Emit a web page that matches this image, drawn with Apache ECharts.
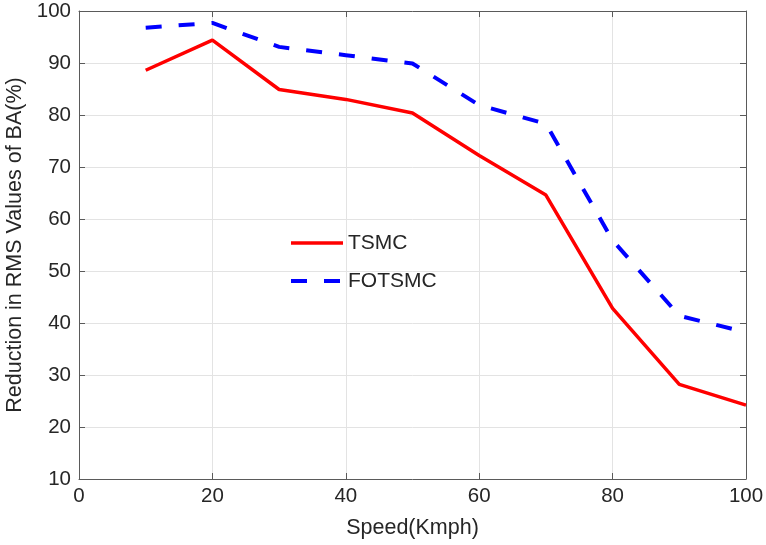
<!DOCTYPE html>
<html><head><meta charset="utf-8">
<script src="https://cdn.jsdelivr.net/npm/echarts@6/dist/echarts.min.js"></script>
<style>html,body{margin:0;padding:0;background:#fff}#c{width:766px;height:545px}</style>
</head><body><div id="c"></div>
<script>
const speeds = [10, 20, 30, 40, 50, 60, 70, 80, 90, 100];
const tsmc = [88.6, 94.4, 84.9, 83.0, 80.4, 72.2, 64.6, 42.8, 28.2, 24.2];
const fotsmc = [96.8, 97.7, 93.1, 91.5, 89.9, 81.9, 78.3, 55.9, 41.4, 38.2];
const seriesNames = ['TSMC', 'FOTSMC'];
const xTitle = 'Speed(Kmph)';
const yTitle = 'Reduction in RMS Values of BA(%)';

const font = 'Liberation Sans, Arial, sans-serif';
const axisCol = '#5a5a5a';
const txtCol = '#262626';
const chart = echarts.init(document.getElementById('c'));
const baseAxis = {
  axisLine: {show: true, onZero: false, lineStyle: {color: axisCol, width: 1}},
  axisTick: {show: true, inside: true, length: 6, lineStyle: {color: axisCol}},
  minorTick: {show: false}
};
chart.setOption({
  animation: false,
  backgroundColor: '#fff',
  grid: {left: 79, right: 20, top: 11, bottom: 66, containLabel: false, outerBoundsMode: 'none'},
  legend: {
    orient: 'vertical', left: 284, top: 227, itemGap: 16,
    itemWidth: 52, itemHeight: 14,
    itemStyle: {opacity: 0},
    textStyle: {fontFamily: font, fontSize: 21, lineHeight: 22, color: txtCol},
    data: [
      {name: seriesNames[0], lineStyle: {width: 3.5}},
      {name: seriesNames[1], lineStyle: {width: 4}}
    ]
  },
  xAxis: [
    Object.assign({}, baseAxis, {
      type: 'value', min: 0, max: 100, interval: 20, position: 'bottom',
      name: xTitle, nameLocation: 'middle', nameGap: 38,
      nameTextStyle: {fontFamily: font, fontSize: 21.5, color: txtCol},
      axisLabel: {fontFamily: font, fontSize: 20.5, color: txtCol, margin: 7},
      splitLine: {show: true, lineStyle: {color: '#e3e3e3', width: 1}}
    }),
    Object.assign({}, baseAxis, {
      type: 'value', min: 0, max: 100, interval: 20, position: 'top',
      axisLabel: {show: false}, splitLine: {show: false}
    })
  ],
  yAxis: [
    Object.assign({}, baseAxis, {
      type: 'value', min: 10, max: 100, interval: 10, position: 'left',
      name: yTitle, nameLocation: 'middle', nameGap: 47, nameRotate: 90,
      nameTextStyle: {fontFamily: font, fontSize: 21.5, color: txtCol},
      axisLabel: {fontFamily: font, fontSize: 20.5, color: txtCol, margin: 8},
      splitLine: {show: true, lineStyle: {color: '#e3e3e3', width: 1}}
    }),
    Object.assign({}, baseAxis, {
      type: 'value', min: 10, max: 100, interval: 10, position: 'right',
      axisLabel: {show: false}, splitLine: {show: false}
    })
  ],
  series: [
    {
      name: seriesNames[0], type: 'line', symbol: 'none',
      data: speeds.map((s, i) => [s, tsmc[i]]),
      lineStyle: {color: '#ff0000', width: 3.5},
      itemStyle: {color: '#ff0000'}
    },
    {
      name: seriesNames[1], type: 'line', symbol: 'none',
      data: speeds.map((s, i) => [s, fotsmc[i]]),
      lineStyle: {color: '#0000ff', width: 4, type: [16, 17]},
      itemStyle: {color: '#0000ff'}
    }
  ]
});
</script></body></html>
